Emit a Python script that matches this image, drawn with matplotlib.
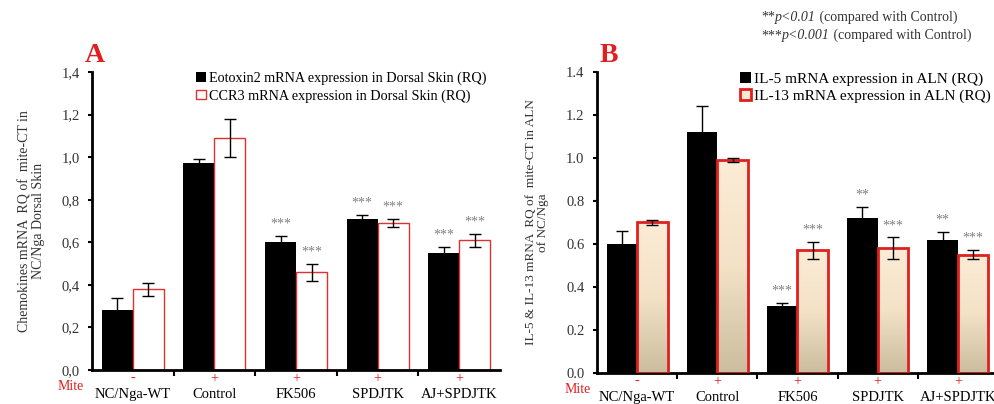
import matplotlib.pyplot as plt
import matplotlib.colors as mcolors
import numpy as np

plt.rcParams['font.family'] = ['Liberation Serif', 'DejaVu Serif']

groups = ["NC/Nga-WT", "Control", "FK506", "SPDJTK", "AJ+SPDJTK"]
mite = ["-", "+", "+", "+", "+"]

# panel A
eotaxin = [0.28, 0.97, 0.60, 0.71, 0.55]
eotaxin_err = [0.06, 0.02, 0.03, 0.02, 0.03]
ccr3 = [0.38, 1.09, 0.46, 0.69, 0.61]
ccr3_err = [0.03, 0.09, 0.04, 0.02, 0.03]
eotaxin_sig = ["", "", "***", "***", "***"]
ccr3_sig = ["", "", "***", "***", "***"]

# panel B
il5 = [0.60, 1.12, 0.31, 0.72, 0.62]
il5_err = [0.06, 0.12, 0.015, 0.05, 0.035]
il13 = [0.70, 0.99, 0.57, 0.58, 0.55]
il13_err = [0.012, 0.01, 0.04, 0.05, 0.02]
il5_sig = ["", "", "***", "**", "**"]
il13_sig = ["", "", "***", "***", "***"]

fig = plt.figure(figsize=(9.95, 4.04), dpi=100)
axA = fig.add_axes([0.0925, 0.084, 0.41, 0.738])
axB = fig.add_axes([0.600, 0.077, 0.403, 0.745])

x = np.arange(len(groups))
w = 0.38
cream = mcolors.LinearSegmentedColormap.from_list("cream", ["#cbbd9e", "#f3e2c6", "#fcecd6"])


def style_axis(ax, comma, mite_x):
    ax.set_xlim(0, 5)
    ax.set_ylim(0, 1.4)
    for s in ["top", "right"]:
        ax.spines[s].set_visible(False)
    for s in ["left", "bottom"]:
        ax.spines[s].set_linewidth(2)
    ticks = np.arange(0, 1.41, 0.2)
    ax.set_yticks(ticks)
    if comma:
        ax.set_yticklabels([f"{t:.1f}".replace(".", ",") for t in ticks])
    else:
        ax.set_yticklabels([f"{t:.1f}" for t in ticks])
    ax.tick_params(axis="y", direction="out", length=3, width=1.5, labelsize=10.5,
                   labelcolor="#333333", pad=6)
    ax.set_xticks([1, 2, 3, 4])
    ax.set_xticklabels([])
    ax.tick_params(axis="x", direction="out", length=4, width=1.5)
    tr = ax.get_xaxis_transform()
    for i, g in enumerate(groups):
        ax.text(i + 0.5, -0.082, g, transform=tr, ha="center", va="center", fontsize=10.5,
                clip_on=False)
        ax.text(i + 0.5, -0.028, mite[i], transform=tr, ha="center", va="center",
                fontsize=10, color="#e02020", clip_on=False)
    ax.text(mite_x, -0.055, "Mite", transform=tr, ha="center", va="center",
            fontsize=10, color="#e02020", clip_on=False)


def stars(ax, xs, vals, errs, sig, dy):
    for xi, v, e, s in zip(xs, vals, errs, sig):
        if s:
            ax.text(xi, v + e + dy, s, ha="center", va="bottom", fontsize=10, color="#808080")


# ---- panel A
style_axis(axA, True, -0.26)
axA.bar(x + 0.31, eotaxin, w, color="black", label="Eotoxin2 mRNA expression in Dorsal Skin (RQ)")
axA.bar(x + 0.69, ccr3, w, color="white", edgecolor="#e03030", linewidth=1,
        label="CCR3 mRNA expression in Dorsal Skin (RQ)")
axA.errorbar(x + 0.31, eotaxin, yerr=eotaxin_err, fmt="none", ecolor="black", capsize=4, lw=1)
axA.errorbar(x + 0.69, ccr3, yerr=ccr3_err, fmt="none", ecolor="black", capsize=4, lw=1)
stars(axA, x + 0.31, eotaxin, eotaxin_err, eotaxin_sig, 0.025)
stars(axA, x + 0.69, ccr3, ccr3_err, ccr3_sig, 0.025)
axA.legend(loc="upper left", bbox_to_anchor=(0.23, 1.035), frameon=False, fontsize=10.2,
           handlelength=0.7, handleheight=0.7, handletextpad=0.2, labelspacing=0.3,
           borderpad=0.2)
axA.set_ylabel("Chemokines mRNA  RQ of  mite-CT in\nNC/Nga Dorsal Skin", fontsize=10,
               color="#333333", labelpad=12, linespacing=1.0)
fig.text(0.095, 0.862, "A", color="#e02020", fontsize=20, fontweight="bold", ha="center",
         va="center")

# ---- panel B
style_axis(axB, False, -0.24)
axB.bar(x + 0.31, il5, w, color="black")
bars13 = axB.bar(x + 0.69, il13, w, color="none", edgecolor="#e02020", linewidth=2, zorder=3)
grad = np.linspace(0, 1, 100).reshape(-1, 1)
for b in bars13:
    im = axB.imshow(grad, cmap=cream, origin="lower", aspect="auto", zorder=2,
                    extent=[b.get_x(), b.get_x() + b.get_width(), 0, b.get_height()])
    im.set_clip_path(b)
axB.set_xlim(0, 5)
axB.set_ylim(0, 1.4)
axB.errorbar(x + 0.31, il5, yerr=il5_err, fmt="none", ecolor="black", capsize=4, lw=1)
axB.errorbar(x + 0.69, il13, yerr=il13_err, fmt="none", ecolor="black", capsize=4, lw=1,
             zorder=4)
stars(axB, x + 0.31, il5, il5_err, il5_sig, 0.025)
stars(axB, x + 0.69, il13, il13_err, il13_sig, 0.025)
hB = [plt.Rectangle((0, 0), 1, 1, fc="black"),
      plt.Rectangle((0, 0), 1, 1, fc="#fbe8cf", ec="#e02020", lw=2)]
axB.legend(hB, ["IL-5 mRNA expression in ALN (RQ)", "IL-13 mRNA expression in ALN (RQ)"],
           loc="upper left", bbox_to_anchor=(0.33, 1.035), frameon=False, fontsize=11,
           handlelength=0.7, handleheight=0.7, handletextpad=0.2, labelspacing=0.2,
           borderpad=0.2)
axB.set_ylabel("IL-5 & IL-13 mRNA  RQ of  mite-CT in ALN\nof NC/Nga", fontsize=9.5,
               color="#333333", labelpad=12, linespacing=1.0)
fig.text(0.612, 0.862, "B", color="#e02020", fontsize=20, fontweight="bold", ha="center",
         va="center")

# significance note, italic p-value part
for y, stars_txt, ptxt in [(0.948, "**", "p<0.01"), (0.903, "***", "p<0.001")]:
    t1 = fig.text(0.765, y, stars_txt, fontsize=10, color="#333333", ha="left", va="baseline")
    t2 = fig.add_artist(plt.Annotation(ptxt, xy=(1, 0), xycoords=t1, fontsize=10,
                                       color="#333333", style="italic", va="bottom"))
    fig.add_artist(plt.Annotation(" (compared with Control)", xy=(1, 0), xycoords=t2,
                                  fontsize=10, color="#333333", va="bottom"))

fig.savefig("out.png", dpi=100)
